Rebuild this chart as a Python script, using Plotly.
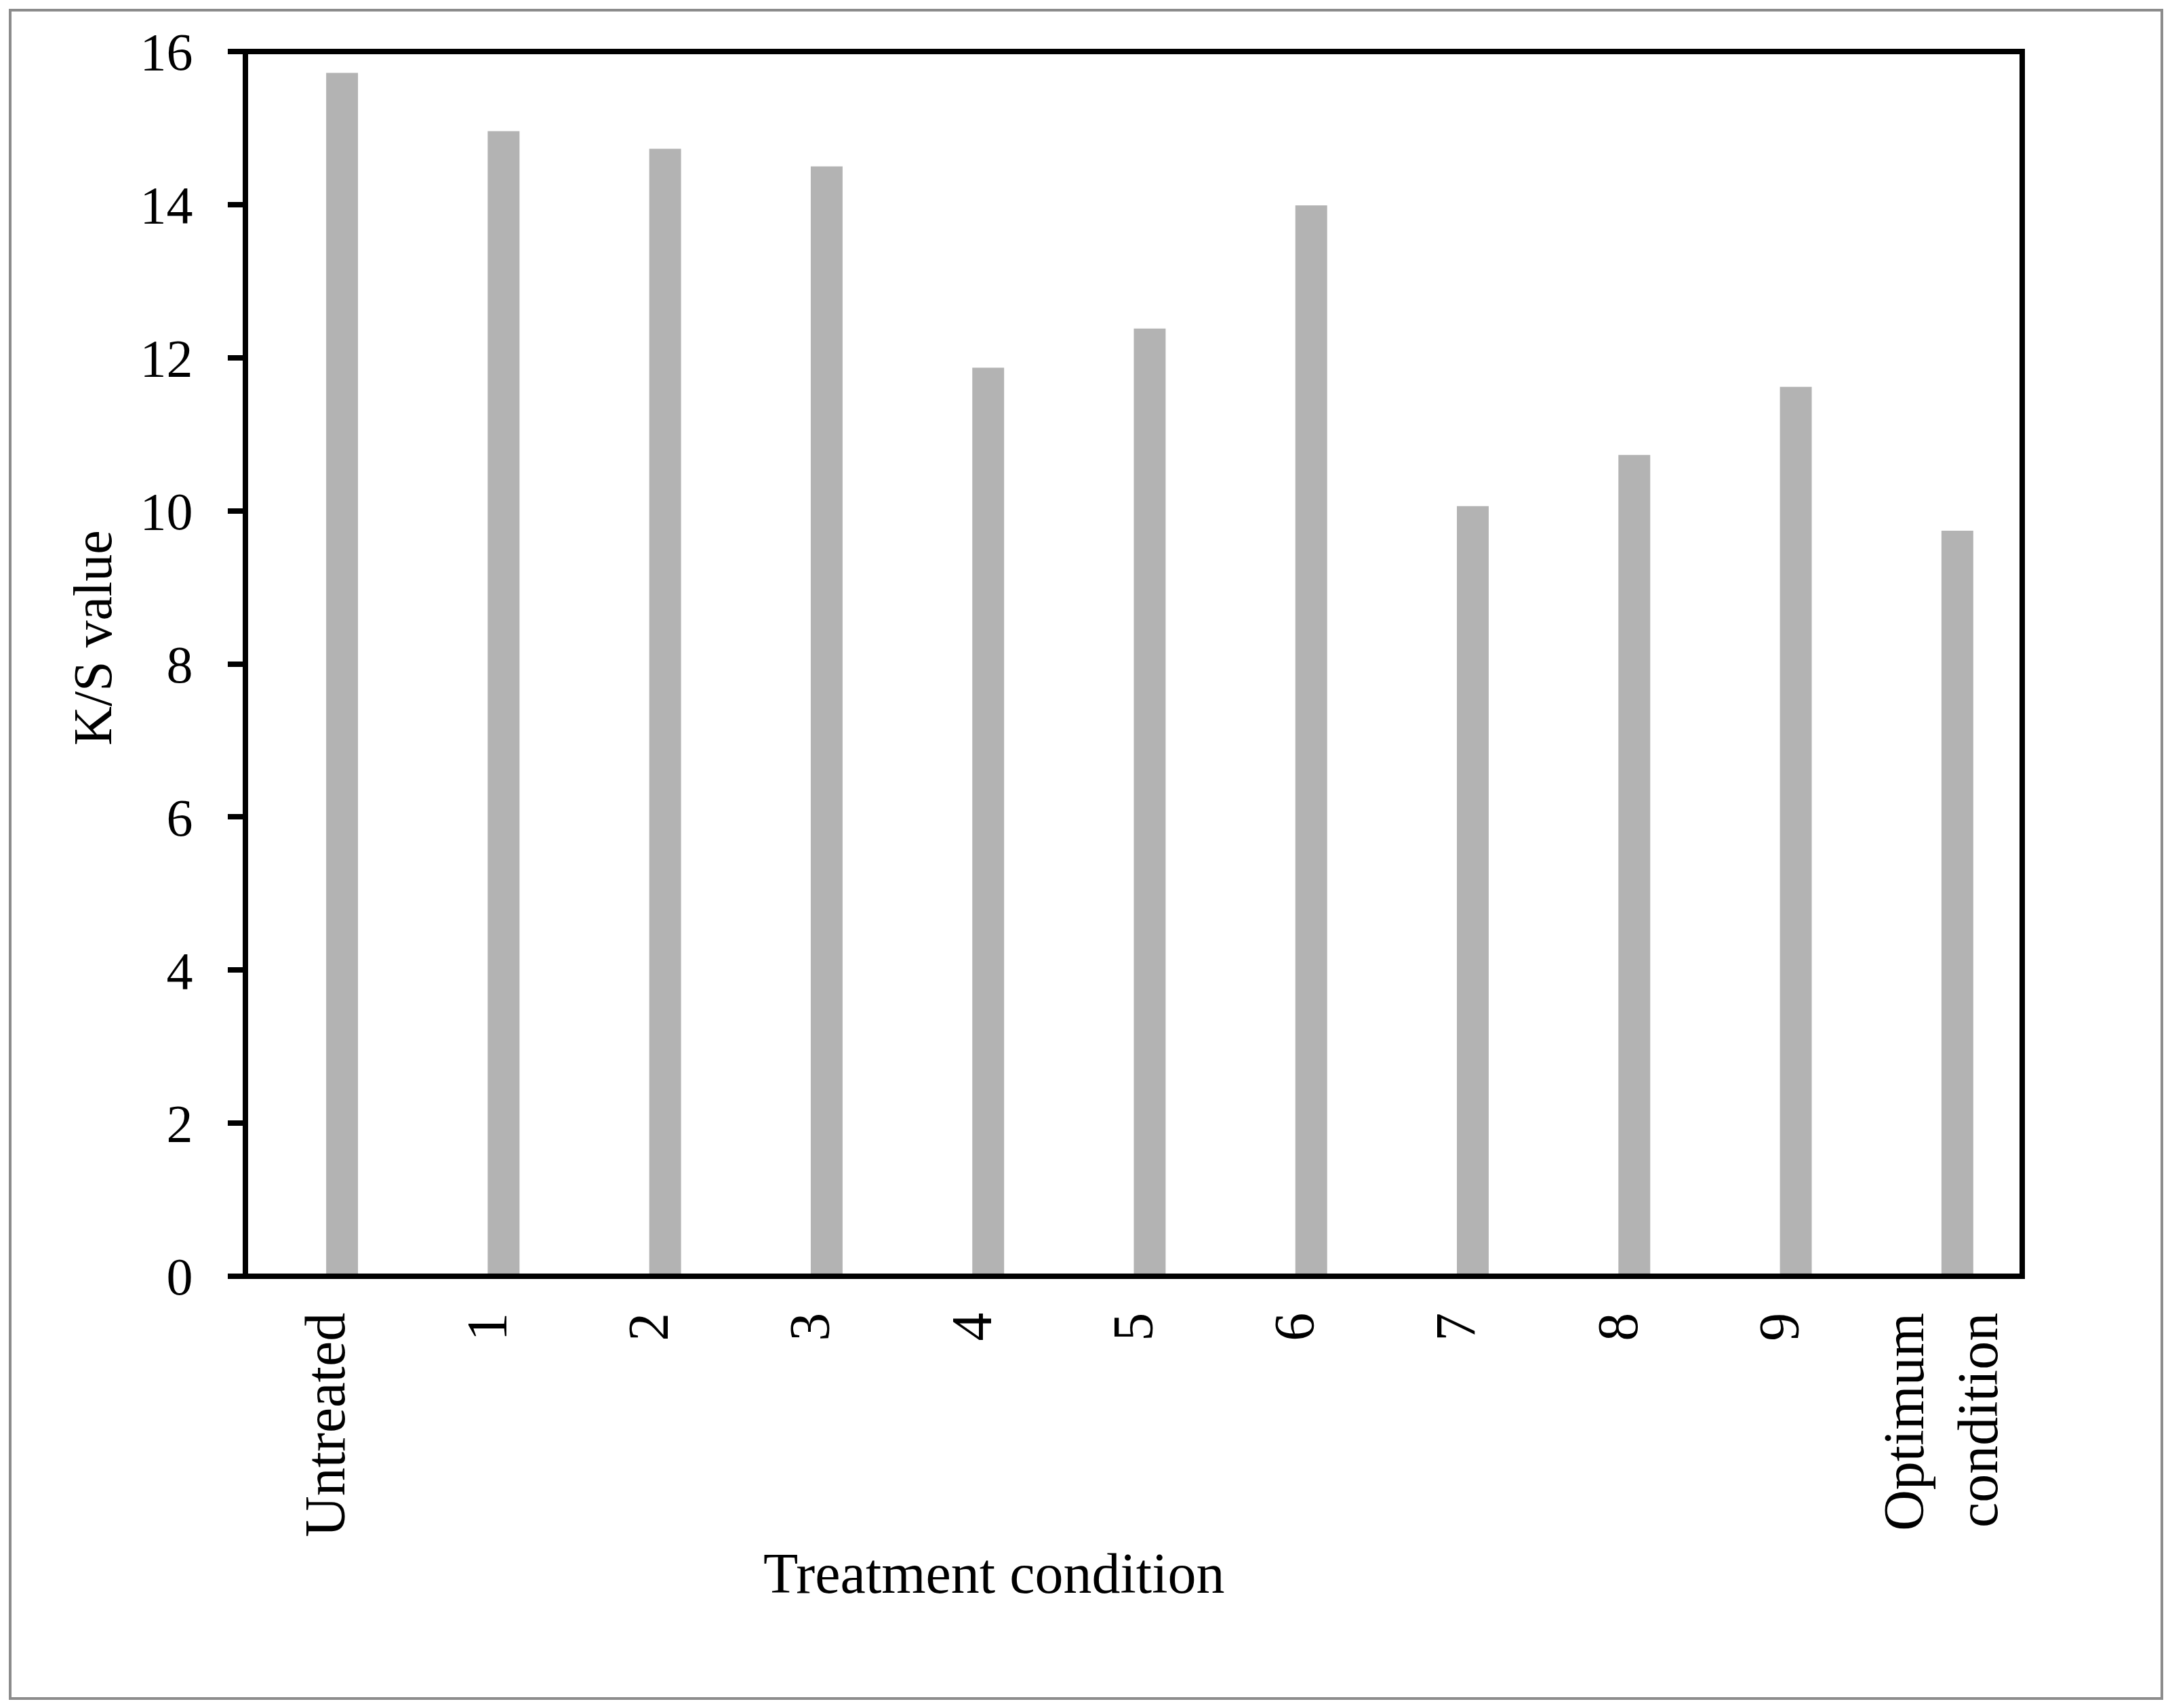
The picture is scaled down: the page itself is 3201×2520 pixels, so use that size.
import plotly.graph_objects as go

categories = ["Untreated", "1", "2", "3", "4", "5", "6", "7", "8", "9", "Optimum<br>condition"]
ks_values = [15.72, 14.96, 14.73, 14.50, 11.87, 12.38, 13.99, 10.06, 10.73, 11.62, 9.74]
y_ticks = [0, 2, 4, 6, 8, 10, 12, 14, 16]

W, H = 3201, 2520
L, R, T, B = 362, 218, 76, 637
pw, ph = W - L - R, H - T - B

def px_x(x):
    return (x - L) / pw

def px_y(y):
    return (H - B - y) / ph

FONT = "Liberation Serif"

fig = go.Figure()
fig.add_trace(go.Bar(
    x=categories, y=ks_values,
    marker=dict(color="#b3b3b3", line=dict(width=0)),
    width=0.197, offset=0.0,
))

fig.update_layout(
    width=W, height=H,
    margin=dict(l=L, r=R, t=T, b=B),
    plot_bgcolor="white", paper_bgcolor="white",
    showlegend=False,
    font=dict(family=FONT, size=80, color="black"),
    xaxis=dict(
        type="category", tickangle=-90,
        showline=False, ticks="", showgrid=False, zeroline=False,
        tickfont=dict(family=FONT, size=84, color="black"),
        ticklabelstandoff=36,
    ),
    yaxis=dict(
        range=[0, 16], tickvals=y_ticks,
        showline=False,
        ticks="outside", ticklen=25, tickwidth=8, tickcolor="black",
        showgrid=False, zeroline=False,
        tickfont=dict(family=FONT, size=78, color="black"),
        ticklabelstandoff=36,
    ),
    annotations=[
        dict(text="Treatment condition", x=px_x(1466), y=px_y(2321), xref="paper", yref="paper",
             showarrow=False, xanchor="center", yanchor="middle",
             font=dict(family=FONT, size=84, color="black")),
        dict(text="K/S value", x=px_x(137), y=px_y(941), xref="paper", yref="paper",
             showarrow=False, xanchor="center", yanchor="middle", textangle=-90,
             font=dict(family=FONT, size=80, color="black")),
    ],
    shapes=[
        dict(type="rect", xref="paper", yref="paper", x0=0, x1=1, y0=0, y1=1,
             line=dict(color="black", width=8), fillcolor="rgba(0,0,0,0)", layer="above"),
        dict(type="rect", xref="paper", yref="paper",
             x0=px_x(15), x1=px_x(3189), y0=px_y(2506), y1=px_y(15),
             line=dict(color="#8c8c8c", width=4), fillcolor="rgba(0,0,0,0)", layer="below"),
    ],
)

fig.write_html("out.html", config={"displayModeBar": False},
               post_script="document.body.style.margin='0';document.body.style.overflow='hidden';")
